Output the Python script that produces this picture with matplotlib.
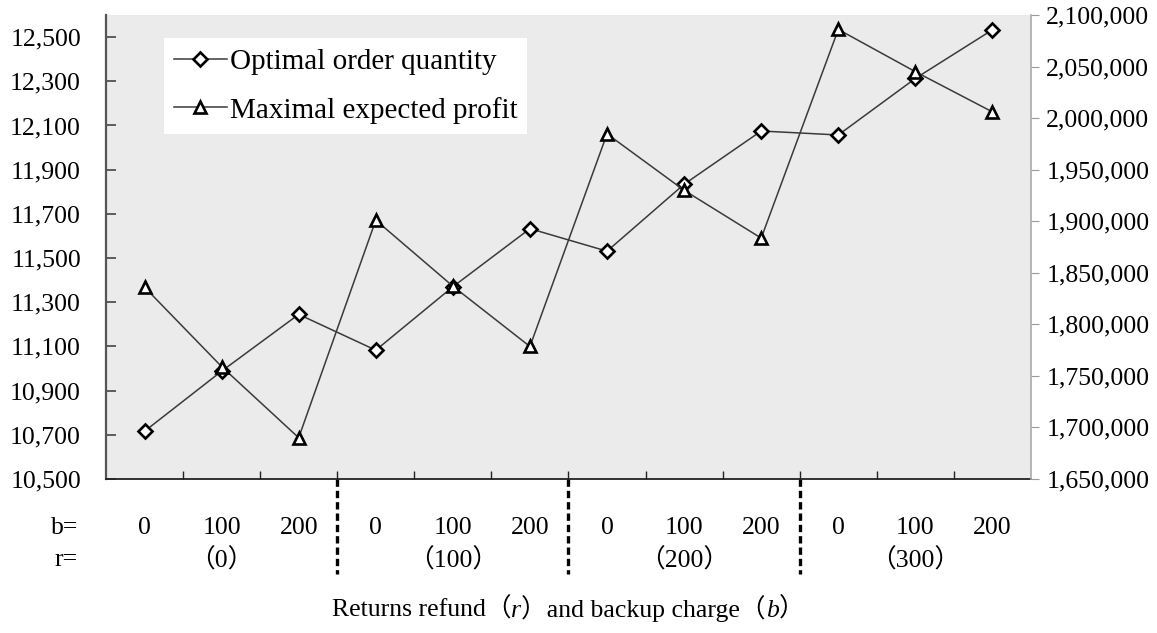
import numpy as np
import matplotlib
matplotlib.use("Agg")
import matplotlib.pyplot as plt
import matplotlib.transforms as mtransforms
from matplotlib.ticker import FuncFormatter, FixedLocator

plt.rcParams['font.family'] = ['Liberation Serif', 'Noto Sans CJK SC']

# returns refund r (groups) and backup charge b (within group)
r_groups = ["（0）", "（100）", "（200）", "（300）"]
b_values = ["0", "100", "200"]

order_qty = [10716, 10988, 11245, 11083, 11370, 11633,
             11531, 11834, 12075, 12057, 12313, 12533]
profit = [1836000, 1759000, 1690000, 1901000, 1837000, 1778500,
          1984700, 1930000, 1883600, 2086000, 2045000, 2006000]

FS = 18.5
bg = "#ebebeb"
line_col = "#3a3a3a"

fig = plt.figure(figsize=(11.57, 6.33), dpi=100)
ax = fig.add_axes([0.0916, 0.2433, 0.7995, 0.7330])
ax2 = ax.twinx()

x = np.arange(len(order_qty))

ax.set_facecolor(bg)
ax.set_zorder(1)
ax2.set_zorder(2)
ax2.patch.set_visible(False)

l1, = ax.plot(x, order_qty, color=line_col, lw=1.1, marker="D", ms=7,
              mfc="white", mec="black", mew=1.9, label="Optimal order quantity")
l2, = ax2.plot(x, profit, color=line_col, lw=1.1, marker="^", ms=9,
               mfc="white", mec="black", mew=1.9, label="Maximal expected profit")

ax.set_xlim(-0.5, len(order_qty) - 0.5)
ax.set_ylim(10500, 12600)
ax2.set_ylim(1650000, 2100000)

comma = FuncFormatter(lambda v, p: f"{int(v):,}")
ax.yaxis.set_major_locator(FixedLocator(np.arange(10500, 12501, 200)))
ax.yaxis.set_major_formatter(comma)
ax2.yaxis.set_major_locator(FixedLocator(np.arange(1650000, 2100001, 50000)))
ax2.yaxis.set_major_formatter(comma)

ax.tick_params(axis="y", direction="in", length=7, width=1.2, color="#444444",
               labelsize=FS, pad=18)
ax2.tick_params(axis="y", direction="out", length=6, width=0.8, color="#999999",
                labelsize=FS, pad=5)

# category boundaries as x ticks, no labels
ax.xaxis.set_major_locator(FixedLocator(np.arange(0.5, len(order_qty) - 0.5, 1)))
ax.tick_params(axis="x", direction="in", length=6, width=1.0, color="#222222",
               labelbottom=False)

for a in (ax, ax2):
    a.spines["top"].set_visible(False)
ax.spines["right"].set_visible(False)
ax.spines["left"].set_color("#555555")
ax.spines["left"].set_linewidth(1.6)
ax.spines["bottom"].set_color("#222222")
ax.spines["bottom"].set_linewidth(1.3)
ax2.spines["left"].set_visible(False)
ax2.spines["bottom"].set_visible(False)
ax2.spines["right"].set_color("#aaaaaa")
ax2.spines["right"].set_linewidth(1.2)

# group labels under the axis
trans = mtransforms.blended_transform_factory(ax.transData, ax.transAxes)
for i in range(len(order_qty)):
    ax.text(i, -0.105, b_values[i % 3], transform=trans, ha="center",
            va="center", fontsize=FS, clip_on=False)
for g, lab in enumerate(r_groups):
    ax.text(g * 3 + 1, -0.175, lab, transform=trans, ha="center",
            va="center", fontsize=FS, clip_on=False)
fig.text(78 / 1157, 1 - 528 / 633, "b=", ha="right", va="center", fontsize=FS)
fig.text(78 / 1157, 1 - 560 / 633, "r=", ha="right", va="center", fontsize=FS)

# dashed separators between r groups
for g in range(1, len(r_groups)):
    ax.plot([g * 3 - 0.5, g * 3 - 0.5], [0, -0.205], transform=trans,
            color="black", lw=2.4, ls=(0, (2.2, 1.2)), clip_on=False,
            solid_capstyle="butt")

leg = ax.legend(handles=[l1, l2], loc="upper left",
                bbox_to_anchor=(0.0627, 0.950), borderaxespad=0,
                fontsize=21, frameon=True, fancybox=False, framealpha=1,
                facecolor="white", edgecolor="none", handlelength=1.8,
                handletextpad=0.1, labelspacing=0.75, borderpad=0.35)

# axis title with italic symbols
pieces = ["Returns refund（", "r", "）and backup charge（", "b", "）"]
styles = ["normal", "italic", "normal", "italic", "normal"]
y_title = 1 - 622 / 633
first = fig.text(0.5, y_title, pieces[0], fontsize=FS, fontstyle=styles[0],
                 ha="left", va="bottom")
parts = [first]
prev = first
for txt, st in zip(pieces[1:], styles[1:]):
    prev = ax.annotate(txt, xy=(1, 0), xycoords=prev, ha="left", va="bottom",
                       fontsize=FS, fontstyle=st, annotation_clip=False)
    parts.append(prev)

fig.canvas.draw()
rend = fig.canvas.get_renderer()
x0 = parts[0].get_window_extent(rend).x0
x1 = parts[-1].get_window_extent(rend).x1
cx = 568
first.set_x((cx - (x1 - x0) / 2) / fig.bbox.width)

fig.savefig("out.png", dpi=100)
